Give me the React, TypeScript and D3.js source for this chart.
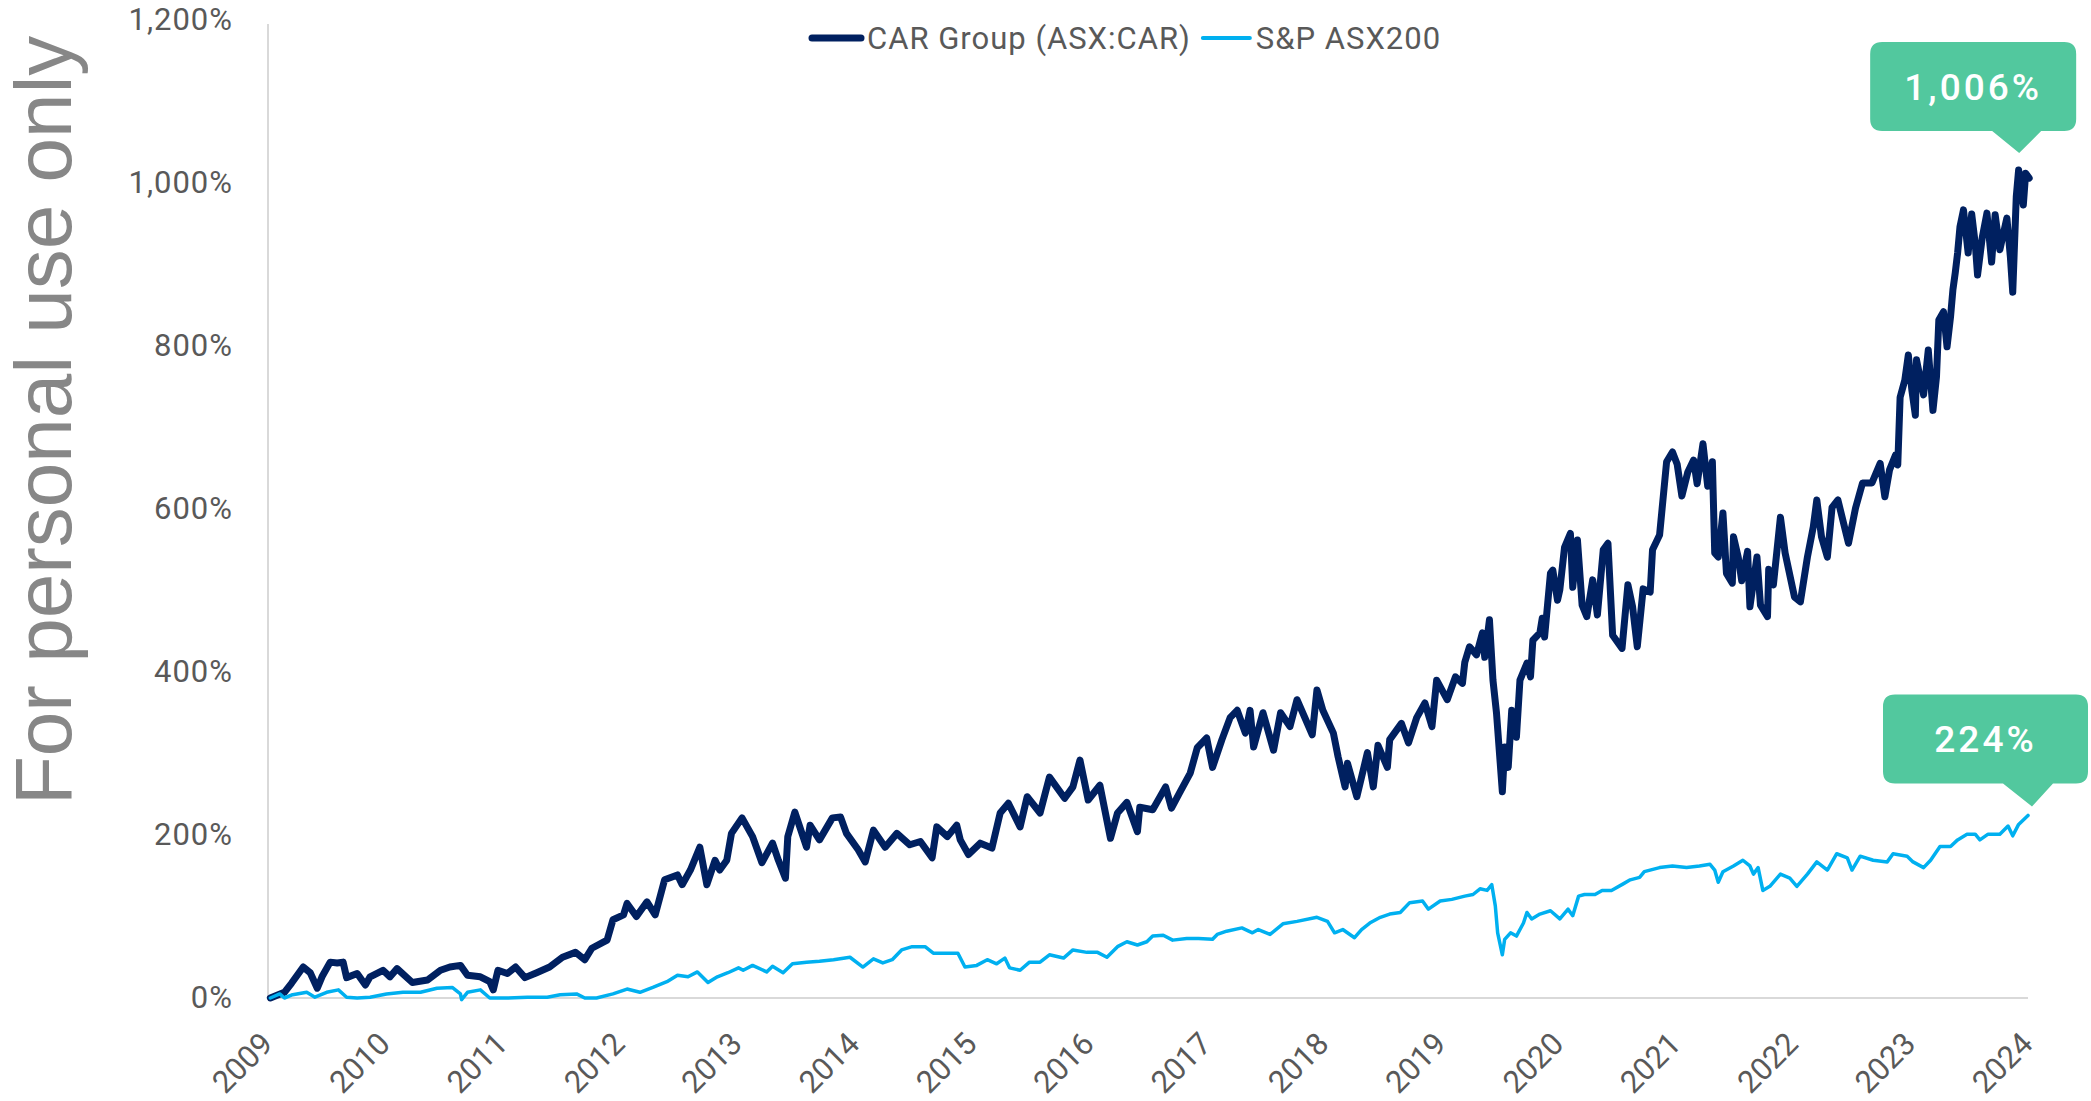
import React, { useEffect, useRef } from 'react';
import * as d3 from 'd3';

// x axis labels and y ticks
const yearTicks = [2009, 2010, 2011, 2012, 2013, 2014, 2015, 2016, 2017, 2018, 2019, 2020, 2021, 2022, 2023, 2024];
const yTicks = [0, 200, 400, 600, 800, 1000, 1200];

const seriesNames = ['CAR Group (ASX:CAR)', 'S&P ASX200'];
const endLabels = ['1,006%', '224%'];

// cumulative return (%), x as fractional year
const carYears = [
  2009.02, 2009.14, 2009.2, 2009.3, 2009.36, 2009.42, 2009.46, 2009.53, 2009.59, 2009.64, 2009.67, 2009.76, 2009.83, 2009.87, 2009.98,
  2010.04, 2010.1, 2010.23, 2010.36, 2010.47, 2010.55, 2010.64, 2010.7, 2010.81, 2010.89, 2010.92, 2010.96,
  2011.04, 2011.11, 2011.19, 2011.29, 2011.4, 2011.51, 2011.62, 2011.7, 2011.76, 2011.89, 2011.94,
  2012.03, 2012.06, 2012.14, 2012.23, 2012.3, 2012.38, 2012.49, 2012.53, 2012.6, 2012.68, 2012.74, 2012.81, 2012.85, 2012.91, 2012.95,
  2013.04, 2013.13, 2013.21, 2013.3, 2013.35, 2013.41, 2013.43, 2013.49, 2013.59, 2013.62, 2013.7, 2013.81, 2013.88, 2013.93,
  2014.03, 2014.09, 2014.16, 2014.26, 2014.36, 2014.47, 2014.56, 2014.66, 2014.7, 2014.79, 2014.87, 2014.9, 2014.97,
  2015.07, 2015.17, 2015.24, 2015.31, 2015.41, 2015.47, 2015.58, 2015.66, 2015.79, 2015.86, 2015.92, 2015.99,
  2016.09, 2016.18, 2016.24, 2016.32, 2016.41, 2016.43, 2016.54, 2016.65, 2016.7, 2016.77, 2016.86, 2016.92,
  2017.0, 2017.05, 2017.13, 2017.2, 2017.26, 2017.33, 2017.37, 2017.4, 2017.48, 2017.57, 2017.63, 2017.71, 2017.77, 2017.9, 2017.94, 2017.99,
  2018.08, 2018.12, 2018.18, 2018.2, 2018.28, 2018.37, 2018.42, 2018.46, 2018.54, 2018.56, 2018.66, 2018.72, 2018.79, 2018.86, 2018.92, 2018.96,
  2019.05, 2019.12, 2019.18, 2019.2, 2019.24, 2019.3, 2019.35, 2019.37, 2019.41, 2019.44, 2019.47, 2019.52, 2019.54, 2019.57, 2019.6, 2019.64,
  2019.67, 2019.73, 2019.76, 2019.78, 2019.84, 2019.86, 2019.88, 2019.93, 2019.95, 2019.99,
  2020.01, 2020.05, 2020.1, 2020.12, 2020.16, 2020.2, 2020.24, 2020.29, 2020.33, 2020.38, 2020.42, 2020.46, 2020.54, 2020.59, 2020.63,
  2020.67, 2020.72, 2020.78, 2020.8, 2020.86, 2020.92, 2020.97,
  2021.01, 2021.05, 2021.1, 2021.15, 2021.18, 2021.23, 2021.27, 2021.31, 2021.33, 2021.36, 2021.4, 2021.43, 2021.48, 2021.49, 2021.53,
  2021.56, 2021.61, 2021.63, 2021.69, 2021.72, 2021.78, 2021.79, 2021.83, 2021.89, 2021.93,
  2022.01, 2022.06, 2022.12, 2022.17, 2022.2, 2022.24, 2022.29, 2022.33, 2022.38, 2022.47, 2022.53, 2022.59, 2022.67, 2022.74, 2022.78,
  2022.82, 2022.87, 2022.89, 2022.91, 2022.95, 2022.98,
  2023.01, 2023.04, 2023.05, 2023.11, 2023.15, 2023.19, 2023.22, 2023.24, 2023.28, 2023.31, 2023.34, 2023.36, 2023.38, 2023.4, 2023.42,
  2023.45, 2023.49, 2023.52, 2023.55, 2023.57, 2023.61, 2023.65, 2023.69, 2023.72, 2023.76, 2023.82, 2023.85, 2023.87, 2023.9, 2023.92,
  2023.96, 2023.98, 2024.01,
];
const carValues = [
  0, 7, 18, 38, 31, 12, 26, 44, 43, 44, 25, 30, 16, 26, 34,
  26, 36, 19, 22, 34, 38, 40, 28, 26, 20, 10, 34,
  30, 38, 25, 31, 38, 50, 56, 47, 61, 71, 96,
  102, 116, 100, 118, 102, 145, 151, 139, 157, 185, 139, 169, 157, 169, 202,
  221, 198, 166, 190, 169, 147, 198, 228, 185, 212, 194, 221, 222, 202,
  182, 167, 206, 185, 202, 188, 192, 172, 210, 198, 212, 194, 176,
  190, 184, 227, 239, 210, 247, 227, 271, 245, 259, 292, 243,
  261, 196, 227, 240, 204, 234, 231, 259, 233, 252, 276, 307,
  319, 283, 317, 344, 353, 325, 353, 308, 350, 304, 350, 333, 366, 323, 378, 353,
  325, 296, 259, 288, 247, 301, 259, 310, 283, 317, 337, 313, 344, 362, 333, 390,
  366, 394, 386, 412, 431, 421, 448, 418, 464, 390, 350, 253, 308, 283, 353, 320,
  390, 411, 394, 439, 448, 466, 443, 521, 525, 488,
  501, 553, 570, 504, 562, 482, 468, 513, 470, 550, 558, 445, 429, 507, 480,
  431, 502, 498, 550, 568, 658, 670,
  655, 616, 645, 660, 631, 680, 628, 658, 546, 541, 595, 521, 509, 566, 541,
  512, 548, 480, 541, 482, 468, 526, 507, 590, 546,
  492, 486, 541, 578, 611, 566, 541, 602, 611, 558, 601, 632, 632, 656, 615,
  648, 666, 654, 737, 758, 789,
  746, 715, 783, 740, 795, 721, 762, 832, 842, 799, 836, 869, 890, 914, 946,
  967, 914, 962, 926, 887, 933, 963, 903, 961, 918, 957, 909, 866, 983, 1016,
  973, 1012, 1006,
];

const asxYears = [
  2009.02, 2009.1, 2009.14, 2009.21, 2009.33, 2009.4, 2009.5, 2009.6, 2009.67, 2009.76, 2009.87,
  2010.01, 2010.15, 2010.3, 2010.44, 2010.57, 2010.64, 2010.65, 2010.7, 2010.81, 2010.89,
  2011.04, 2011.21, 2011.38, 2011.49, 2011.63, 2011.7, 2011.8, 2011.94,
  2012.06, 2012.17, 2012.28, 2012.4, 2012.49, 2012.58, 2012.66, 2012.75, 2012.83, 2012.92,
  2013.01, 2013.05, 2013.13, 2013.25, 2013.3, 2013.39, 2013.47, 2013.59, 2013.7, 2013.82, 2013.96,
  2014.07, 2014.16, 2014.24, 2014.32, 2014.4, 2014.49, 2014.6, 2014.67, 2014.79, 2014.88, 2014.94,
  2015.04, 2015.13, 2015.21, 2015.28, 2015.32, 2015.41, 2015.49, 2015.58, 2015.66, 2015.78, 2015.86, 2015.98,
  2016.07, 2016.15, 2016.24, 2016.32, 2016.41, 2016.49, 2016.54, 2016.63, 2016.71, 2016.83, 2016.93,
  2017.05, 2017.09, 2017.17, 2017.3, 2017.39, 2017.44, 2017.54, 2017.65, 2017.77, 2017.94,
  2018.03, 2018.09, 2018.16, 2018.26, 2018.32, 2018.39, 2018.48, 2018.56, 2018.65, 2018.73, 2018.84, 2018.89, 2018.99,
  2019.09, 2019.2, 2019.27, 2019.33, 2019.39, 2019.43, 2019.46, 2019.48, 2019.52, 2019.54, 2019.59, 2019.64, 2019.7,
  2019.73, 2019.77, 2019.84, 2019.93,
  2020.01, 2020.08, 2020.12, 2020.17, 2020.22, 2020.31, 2020.37, 2020.45, 2020.55, 2020.61, 2020.69, 2020.73, 2020.86, 2020.97,
  2021.09, 2021.2, 2021.29, 2021.33, 2021.36, 2021.4, 2021.49, 2021.57, 2021.63, 2021.66, 2021.7, 2021.74, 2021.8, 2021.89, 2021.97,
  2022.03, 2022.12, 2022.2, 2022.29, 2022.37, 2022.46, 2022.5, 2022.57, 2022.68, 2022.8, 2022.85, 2022.97,
  2023.02, 2023.11, 2023.17, 2023.25, 2023.34, 2023.4, 2023.48, 2023.55, 2023.59, 2023.66, 2023.76, 2023.83, 2023.87, 2023.92,
  2024.0,
];
const asxValues = [
  0, 5, 0, 4, 7, 1, 7, 10, 1, 0, 1,
  5, 7, 7, 12, 13, 5, -2, 7, 10, 0,
  0, 1, 1, 4, 5, 0, 0, 5,
  11, 7, 13, 20, 28, 26, 32, 19, 26, 31,
  37, 34, 40, 32, 39, 31, 42, 44, 45, 47, 50,
  38, 48, 43, 47, 59, 63, 63, 55, 55, 55, 38,
  40, 47, 42, 49, 37, 34, 44, 44, 53, 49, 59, 56,
  56, 50, 63, 69, 65, 69, 76, 77, 71, 73, 73,
  72, 78, 82, 86, 80, 84, 78, 91, 94, 99,
  94, 80, 84, 74, 84, 92, 99, 103, 105, 117, 119, 109, 119,
  121, 125, 127, 134, 132, 139, 113, 80, 53, 72, 80, 76, 92,
  105, 97, 103, 107,
  97, 109, 101, 125, 127, 127, 132, 132, 140, 145, 148, 155, 160, 162,
  160, 162, 164, 157, 142, 155, 162, 169, 162, 152, 160, 132, 137, 152, 147,
  137, 152, 167, 157, 177, 172, 157, 174, 169, 167, 177, 174,
  167, 160, 169, 186, 186, 194, 201, 201, 194, 201, 201, 211, 199, 213,
  224,
];

function App() {
  const ref = useRef<SVGSVGElement | null>(null);

  const width = 2091;
  const height = 1101;
  const colors = ['#002060', '#00B0F0'];
  const strokes = [7, 3.5];
  const textColor = '#595959';
  const axisColor = '#D9D9D9';
  const bubbleColor = '#52C89E';
  const font = 'Roboto, "Noto Sans", sans-serif';

  useEffect(() => {
    drawChart();
  }, []);

  function drawChart() {
    const svg = d3.select(ref.current);
    svg.selectAll('*').remove();

    const x = d3.scaleLinear().domain([2009, 2024]).range([268, 2028]);
    const y = d3.scaleLinear().domain([0, 1200]).range([998, 20]);

    // watermark
    svg.append('text')
      .attr('transform', 'translate(71, 805) rotate(-90)')
      .style('font-family', '"Liberation Sans", Arial, sans-serif')
      .style('font-size', '80px')
      .style('fill', '#878787')
      .text('For personal use only');

    // axis lines
    svg.append('line')
      .attr('x1', x(2009)).attr('x2', x(2009))
      .attr('y1', y(1200) + 4).attr('y2', y(0))
      .style('stroke', axisColor).style('stroke-width', 2);
    svg.append('line')
      .attr('x1', x(2009)).attr('x2', x(2024))
      .attr('y1', y(0)).attr('y2', y(0))
      .style('stroke', axisColor).style('stroke-width', 2);

    // y axis labels
    const yAxis = svg.append('g')
      .attr('transform', `translate(${x(2009)},0)`)
      .call(d3.axisLeft(y).tickValues(yTicks).tickSize(0).tickPadding(35)
        .tickFormat((d) => d3.format(',')(d as number) + '%'));
    yAxis.select('.domain').remove();
    yAxis.selectAll('text')
      .style('font-family', font)
      .style('font-size', '31px')
      .style('letter-spacing', '1px')
      .style('fill', textColor);

    // x axis labels, rotated
    const xAxis = svg.append('g')
      .attr('transform', `translate(0,${y(0)})`)
      .call(d3.axisBottom(x).tickValues(yearTicks).tickSize(0).tickFormat(d3.format('d')));
    xAxis.select('.domain').remove();
    xAxis.selectAll('text')
      .attr('y', 0)
      .attr('dy', null)
      .attr('text-anchor', 'middle')
      .attr('dominant-baseline', 'central')
      .attr('transform', 'translate(-26,65) rotate(-45)')
      .style('font-family', font)
      .style('font-size', '31px')
      .style('fill', textColor);

    // lines
    const line = d3.line<[number, number]>()
      .x((d) => x(d[0]))
      .y((d) => y(d[1]));

    const series: [number, number][][] = [
      carYears.map((t, i) => [t, carValues[i]]),
      asxYears.map((t, i) => [t, asxValues[i]]),
    ];

    series.forEach((s, i) => {
      svg.append('path')
        .attr('d', line(s))
        .style('fill', 'none')
        .style('stroke', colors[i])
        .style('stroke-width', strokes[i])
        .style('stroke-linejoin', 'round')
        .style('stroke-linecap', 'round');
    });

    // legend
    const legend = svg.append('g').attr('transform', 'translate(809,38)');
    let lx = 0;
    seriesNames.forEach((name, i) => {
      const len = i === 0 ? 55 : 53;
      legend.append('line')
        .attr('x1', lx + 3).attr('x2', lx + len - 3)
        .attr('y1', 0).attr('y2', 0)
        .style('stroke', colors[i])
        .style('stroke-width', i === 0 ? 7 : 4)
        .style('stroke-linecap', 'round');
      const t = legend.append('text')
        .attr('x', lx + len + 3)
        .attr('y', 0)
        .attr('dy', '0.35em')
        .style('font-family', font)
        .style('font-size', '31px')
        .style('letter-spacing', '1px')
        .style('fill', textColor)
        .text(name);
      const w = (t.node() as SVGTextElement).getComputedTextLength();
      lx += len + 3 + w + 9;
    });

    // end callouts
    const callouts = [
      { ex: x(carYears[carYears.length - 1]), ey: y(carValues[carValues.length - 1]), l: -159, r: 47, t: -136, b: -47, ax: -10, ay: -25, bl: -37, br: 12 },
      { ex: x(asxYears[asxYears.length - 1]), ey: y(asxValues[asxValues.length - 1]), l: -145, r: 60, t: -121, b: -32, ax: 4, ay: -9, bl: -25, br: 25 },
    ];
    callouts.forEach((c, i) => {
      const L = c.ex + c.l, R = c.ex + c.r, T = c.ey + c.t, B = c.ey + c.b;
      const rad = 12;
      const p = d3.path();
      p.moveTo(L + rad, T);
      p.lineTo(R - rad, T);
      p.quadraticCurveTo(R, T, R, T + rad);
      p.lineTo(R, B - rad);
      p.quadraticCurveTo(R, B, R - rad, B);
      p.lineTo(c.ex + c.br, B);
      p.lineTo(c.ex + c.ax, c.ey + c.ay);
      p.lineTo(c.ex + c.bl, B);
      p.lineTo(L + rad, B);
      p.quadraticCurveTo(L, B, L, B - rad);
      p.lineTo(L, T + rad);
      p.quadraticCurveTo(L, T, L + rad, T);
      p.closePath();
      svg.append('path')
        .attr('d', p.toString())
        .style('fill', bubbleColor);
      svg.append('text')
        .attr('x', (L + R) / 2)
        .attr('y', (T + B) / 2)
        .attr('dy', '0.36em')
        .attr('text-anchor', 'middle')
        .style('font-family', font)
        .style('font-size', '37px')
        .style('font-weight', 500)
        .style('letter-spacing', '3px')
        .style('fill', '#ffffff')
        .text(endLabels[i]);
    });
  }

  return (
    <svg
      ref={ref}
      width={width}
      height={height}
      style={{ position: 'absolute', left: 0, top: 0, background: 'white' }}
    />
  );
}

export default App;
